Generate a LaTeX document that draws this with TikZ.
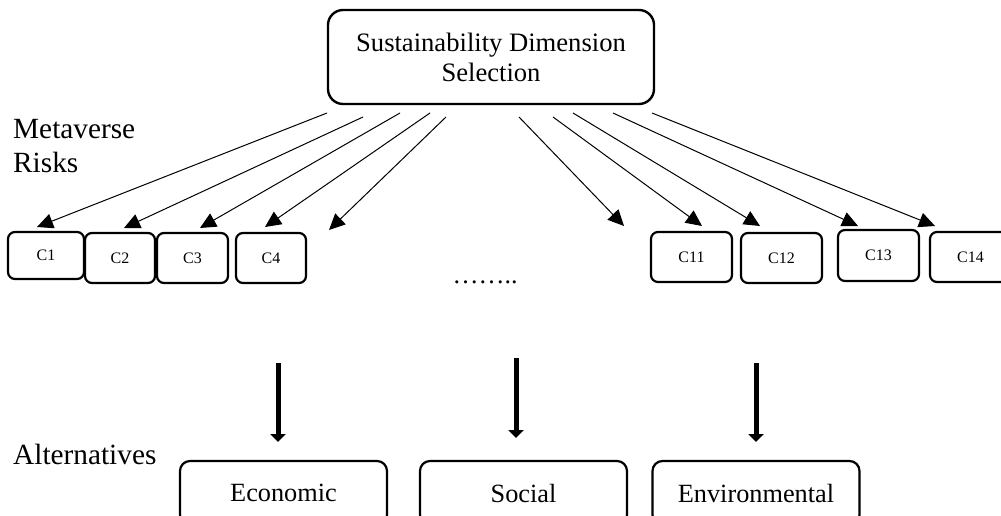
\documentclass[tikz,border=0pt]{standalone}
\usepackage{fontspec}
\setmainfont{Liberation Serif}
\usetikzlibrary{arrows.meta}
\begin{document}
\begin{tikzpicture}[x=1pt,y=-1pt,
  bigbox/.style={draw,line width=2.4pt,rounded corners=15pt,inner sep=0pt,align=center,font=\fontsize{26.6}{30}\selectfont},
  cbox/.style={draw,line width=2.2pt,rounded corners=7pt,inner sep=0pt,font=\fontsize{16}{18}\selectfont},
  altbox/.style={draw,line width=2.2pt,rounded corners=10pt,inner sep=0pt,minimum width=207pt,minimum height=64pt,font=\fontsize{26.3}{30}\selectfont},
  sidelabel/.style={inner sep=0pt,align=left,font=\fontsize{29.3}{34}\selectfont},
  thinarrow/.style={line width=1pt,-{Triangle[length=16pt,width=15pt]}},
  thickarrow/.style={line width=5pt,-{Triangle[length=8pt,width=15pt]}}]
\useasboundingbox (0,0) rectangle (1001,516);
\clip (0,0) rectangle (1001,516);

\node[bigbox,minimum width=326pt,minimum height=94pt] (top) at (491,57) {Sustainability Dimension\\Selection};

\node[sidelabel,anchor=base west] (risks) at (13,172) {Metaverse\\Risks};
\node[sidelabel,anchor=base west] (alt) at (13,464) {Alternatives};

\node[cbox,minimum width=76pt,minimum height=47pt] (c1) at (46,255.5) {C1};
\node[cbox,minimum width=70pt,minimum height=50pt] (c2) at (120,258) {C2};
\node[cbox,minimum width=71pt,minimum height=50pt] (c3) at (192.5,258) {C3};
\node[cbox,minimum width=70pt,minimum height=50pt] (c4) at (271,258) {C4};
\node[cbox,minimum width=81pt,minimum height=50pt] (c11) at (691.5,257) {C11};
\node[cbox,minimum width=81pt,minimum height=50pt] (c12) at (781.5,258) {C12};
\node[cbox,minimum width=81pt,minimum height=51pt] (c13) at (878.5,255.5) {C13};
\node[cbox,minimum width=81pt,minimum height=50pt] (c14) at (970.5,257) {C14};

\node[inner sep=0pt,anchor=base,font=\fontsize{26}{30}\selectfont] (dots) at (485,283) {……..};

\node[altbox] (econ) at (283.5,493) {Economic};
\node[altbox] (soc) at (523.5,493) {Social};
\node[altbox] (env) at (756,493) {Environmental};

\coordinate (s1) at (327,113);  \coordinate (e1) at (37,227);
\coordinate (s2) at (363,117);  \coordinate (e2) at (124,228);
\coordinate (s3) at (400,113);  \coordinate (e3) at (200,228);
\coordinate (s4) at (430,113);  \coordinate (e4) at (265,227);
\coordinate (s5) at (446,117);  \coordinate (e5) at (329,230);
\coordinate (s6) at (519,117);  \coordinate (e6) at (624,226);
\coordinate (s7) at (553,117);  \coordinate (e7) at (702,226);
\coordinate (s8) at (573,113);  \coordinate (e8) at (760,226);
\coordinate (s9) at (613,113);  \coordinate (e9) at (858,226);
\coordinate (s10) at (652,113); \coordinate (e10) at (935,226);
\foreach \i in {1,...,10} {\draw[thinarrow] (s\i) -- (e\i);}

\coordinate (t1) at (278,363); \coordinate (b1) at (278,442);
\coordinate (t2) at (516,358); \coordinate (b2) at (516,438);
\coordinate (t3) at (756,363); \coordinate (b3) at (756,442);
\foreach \i in {1,2,3} {\draw[thickarrow] (t\i) -- (b\i);}
\end{tikzpicture}
\end{document}
